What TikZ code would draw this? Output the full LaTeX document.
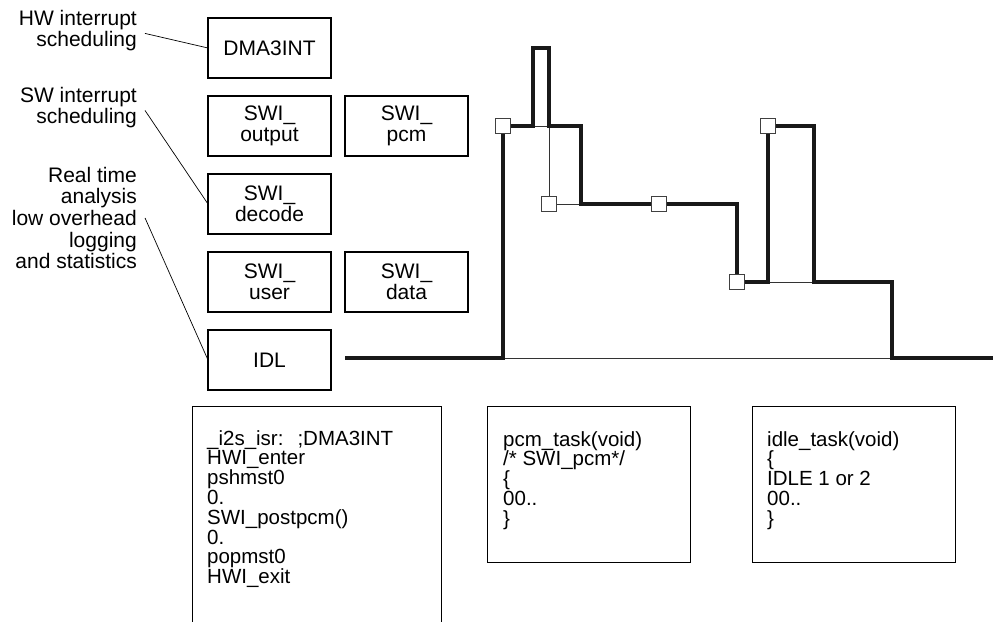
\documentclass[tikz,border=0pt]{standalone}
\usepackage{fontspec}
\setmainfont{Liberation Sans}
\usetikzlibrary{positioning}

\begin{document}
\begin{tikzpicture}[x=1pt, y=-1pt,
  task/.style={draw, line width=2pt, minimum width=123pt, minimum height=60pt, align=center, font=\fontsize{21}{21}\selectfont, inner sep=0pt, outer sep=0pt},
  lbl/.style={align=right, font=\fontsize{21}{21.7}\selectfont, inner sep=0pt, anchor=base east},
  codebox/.style={draw, line width=0.9pt, anchor=north west, inner sep=0pt, minimum height=156pt, minimum width=203pt},
  codetxt/.style={align=left, font=\fontsize{20.5}{19.8}\selectfont, inner sep=0pt, anchor=base west},
  probe/.style={draw=black!75, fill=white, line width=0.9pt, minimum size=15pt, inner sep=0pt},
  lead/.style={line width=0.7pt},
  trace/.style={line width=3.7pt, black!90},
  flat/.style={line width=0.8pt, black!80}
]
\useasboundingbox (0,0) rectangle (993,621);
\clip (0,0) rectangle (993,621);

% task boxes
\node[task] (dma) at (269.5,48) {DMA3INT};
\node[task, below=18pt of dma] (out) {SWI\_\\output};
\node[task, right=14pt of out] (pcm) {SWI\_\\pcm};
\node[task, below=18pt of out] (dec) {SWI\_\\decode};
\node[task, below=18pt of dec] (usr) {SWI\_\\user};
\node[task, right=14pt of usr] (dat) {SWI\_\\data};
\node[task, below=18pt of usr] (idl) {IDL};

% labels on the left (base = last line)
\node[lbl] (hwlbl) at (137,46.7) {HW interrupt\\scheduling};
\node[lbl] (swlbl) at (137,123.7) {SW interrupt\\scheduling};
\node[lbl] (rtlbl) at (137,268.8) {Real time\\analysis\\low overhead\\logging\\and statistics};

\draw[lead] ([shift={(8,3)}]hwlbl.east) -- (dma.west);
\draw[lead] ([shift={(8,3)}]swlbl.east) -- (dec.west);
\draw[lead] ([shift={(8,0)}]rtlbl.east) -- (idl.west);

% timeline
\coordinate (p1) at (503,126);
\coordinate (p2) at (549,204);
\coordinate (p3) at (659,204);
\coordinate (p4) at (737,282);
\coordinate (p5) at (768,126);
\coordinate (t0) at (345,358);
\coordinate (t1) at (993,358);

\draw[flat] (503,358) -- (892,358);
\draw[flat] (533,126) -- (549,126) -- (p2) -- (581,204);
\draw[flat] (768,282) -- (814,282);

\draw[trace] (t0) -- (503,358) -- (p1) -- (533,126) -- (533,48) -- (549,48)
  -- (549,126) -- (581,126) -- (581,204) -- (p3) -- (737,204) -- (p4)
  -- (768,282) -- (p5) -- (814,126) -- (814,282) -- (892,282) -- (892,358) -- (t1);

\foreach \p in {p1,p2,p3,p4,p5}
  \node[probe] (sq\p) at (\p) {};

% code listings
\node[codebox, minimum width=249pt, minimum height=240pt] (isr) at (192,406) {};
\node[codebox] (pcmtask) at (487,406) {};
\node[codebox] (idletask) at (752,406) {};

\node[codetxt] (isrtxt) at ([shift={(15,177.6)}]isr.north west)
  {\_i2s\_isr:\hspace*{14pt};DMA3INT\\HWI\_enter\\pshmst0\\0.\\SWI\_postpcm()\\0.\\popmst0\\HWI\_exit};
\node[codetxt] (pcmtxt) at ([shift={(16,119.2)}]pcmtask.north west)
  {pcm\_task(void)\\/* SWI\_pcm*/\\\{\\00..\\\}};
\node[codetxt] (idletxt) at ([shift={(15,119.2)}]idletask.north west)
  {idle\_task(void)\\\{\\IDLE 1 or 2\\00..\\\}};
\end{tikzpicture}
\end{document}
